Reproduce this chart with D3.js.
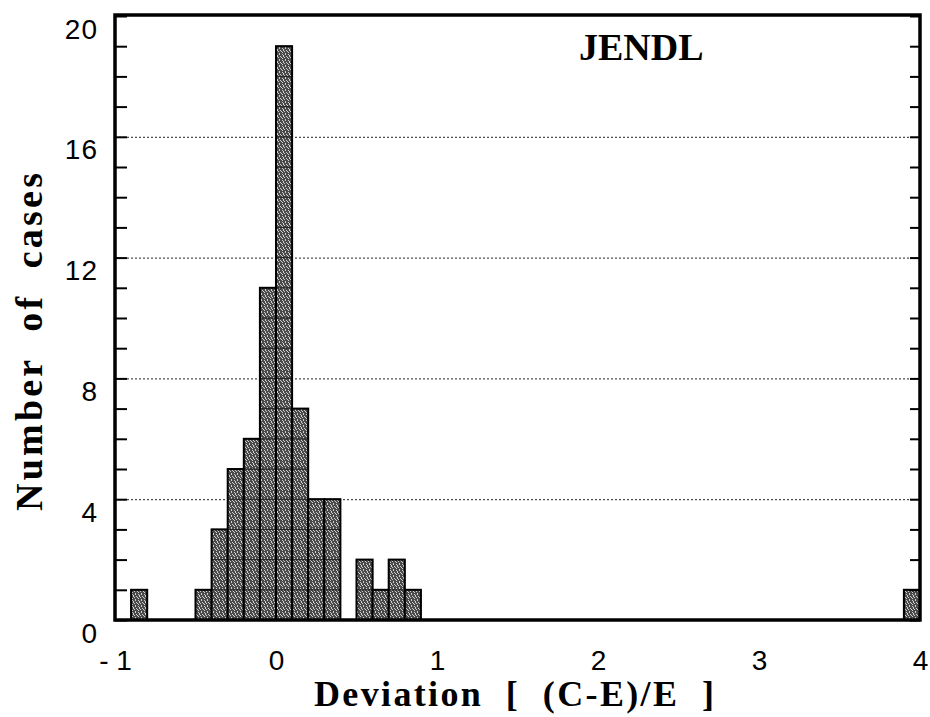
<!DOCTYPE html>
<html>
<head>
<meta charset="utf-8">
<script src="https://cdn.jsdelivr.net/npm/d3@7"></script>
<style>
  html, body { margin: 0; padding: 0; background: #fff; }
  svg { display: block; }
</style>
</head>
<body>
<svg id="chart" width="930" height="717"></svg>
<script>
// Histogram bins (left edge of each 0.1-wide bin) and the number of cases in each
const binStarts = [-0.9, -0.5, -0.4, -0.3, -0.2, -0.1, 0.0, 0.1, 0.2, 0.3, 0.5, 0.6, 0.7, 0.8, 3.9];
const counts    = [1, 1, 3, 5, 6, 11, 19, 7, 4, 4, 2, 1, 2, 1, 1];
const binWidth  = 0.1;

const xTicks = [-1, 0, 1, 2, 3, 4];
const xTickLabels = ["- 1", "0", "1", "2", "3", "4"];
const yTicks = [0, 4, 8, 12, 16, 20];
const gridValues = [4, 8, 12, 16];

const title = "JENDL";
const xTitle = "Deviation  [  (C-E)/E  ]";
const yTitle = "Number  of  cases";

const plotLeft = 115, plotRight = 920, plotTop = 16, plotBottom = 620;

const svg = d3.select("#chart");
const x = d3.scaleLinear().domain([-1, 4]).range([plotLeft, plotRight]);
const y = d3.scaleLinear().domain([0, 20]).range([plotBottom, plotTop]);

// stipple fill for the bars
const defs = svg.append("defs");
const pat = defs.append("pattern")
  .attr("id", "stipple").attr("patternUnits", "userSpaceOnUse")
  .attr("width", 6).attr("height", 6);
pat.append("rect").attr("width", 6).attr("height", 6).attr("fill", "#4a4a4a");
[[0, 0], [3, 0], [1, 1], [4, 2], [2, 3], [5, 3], [0, 4], [3, 5], [1, 2]].forEach(([px, py]) =>
  pat.append("rect").attr("x", px).attr("y", py).attr("width", 1).attr("height", 1).attr("fill", "#d0d0d0"));

// dotted horizontal grid lines
const grid = svg.append("g").attr("transform", `translate(${plotLeft},0)`)
  .call(d3.axisLeft(y).tickValues(gridValues).tickSize(-(plotRight - plotLeft)).tickFormat(""));
grid.select(".domain").remove();
grid.selectAll("line").attr("stroke", "#222").attr("stroke-width", 1).attr("stroke-dasharray", "2,2");

// bars drawn as stacked unit cells
const bins = binStarts.map((s, i) => ({ start: s, count: counts[i] }));
const barG = svg.append("g");
bins.forEach(b => {
  const cells = d3.range(b.count);
  barG.selectAll(null).data(cells).enter().append("rect")
    .attr("x", x(b.start))
    .attr("y", k => y(k + 1))
    .attr("width", x(b.start + binWidth) - x(b.start))
    .attr("height", k => y(k) - y(k + 1))
    .attr("fill", "url(#stipple)")
    .attr("stroke", "#262626")
    .attr("stroke-width", 1);
  barG.append("rect")
    .attr("x", x(b.start))
    .attr("y", y(b.count))
    .attr("width", x(b.start + binWidth) - x(b.start))
    .attr("height", y(0) - y(b.count))
    .attr("fill", "none")
    .attr("stroke", "#000")
    .attr("stroke-width", 2);
});

// left axis: unit ticks pointing inward, labels every 4
const yAxis = svg.append("g").attr("transform", `translate(${plotLeft},0)`)
  .call(d3.axisLeft(y).tickValues(d3.range(0, 21)).tickSize(-12)
    .tickFormat(d => yTicks.includes(d) ? d : ""));
yAxis.select(".domain").remove();
yAxis.selectAll("line").attr("stroke", "#000").attr("stroke-width", 2);
yAxis.selectAll("text")
  .attr("x", -17).attr("dy", "22px")
  .attr("font-family", "'Liberation Sans', Arial, sans-serif")
  .attr("font-size", 28).attr("letter-spacing", 1)
  .attr("fill", "#000");

// right axis: unit ticks pointing inward
const yAxisR = svg.append("g").attr("transform", `translate(${plotRight},0)`)
  .call(d3.axisRight(y).tickValues(d3.range(0, 21)).tickSize(-10).tickFormat(""));
yAxisR.select(".domain").remove();
yAxisR.selectAll("line").attr("stroke", "#000").attr("stroke-width", 2);

// bottom axis labels
const xAxis = svg.append("g").attr("transform", `translate(0,${plotBottom})`)
  .call(d3.axisBottom(x).tickValues(xTicks).tickSize(0)
    .tickFormat((d, i) => xTickLabels[i]));
xAxis.select(".domain").remove();
xAxis.selectAll("text")
  .attr("y", 0).attr("dy", "50px")
  .attr("font-family", "'Liberation Sans', Arial, sans-serif")
  .attr("font-size", 28)
  .attr("fill", "#000")
  .style("white-space", "pre");

// plot frame
svg.append("rect")
  .attr("x", plotLeft).attr("y", 15)
  .attr("width", plotRight - plotLeft).attr("height", plotBottom - 15)
  .attr("fill", "none").attr("stroke", "#000").attr("stroke-width", 3.5);

// labels
svg.append("text")
  .attr("x", 579).attr("y", 60)
  .attr("font-family", "'Liberation Serif', 'Times New Roman', serif")
  .attr("font-weight", "bold").attr("font-size", 38)
  .text(title);

svg.append("text")
  .attr("x", 314).attr("y", 706)
  .attr("font-family", "'Liberation Serif', 'Times New Roman', serif")
  .attr("font-weight", "bold").attr("font-size", 36)
  .attr("textLength", 400).attr("lengthAdjust", "spacing")
  .style("white-space", "pre")
  .text(xTitle);

svg.append("text")
  .attr("transform", "translate(42,511) rotate(-90)")
  .attr("font-family", "'Liberation Serif', 'Times New Roman', serif")
  .attr("font-weight", "bold").attr("font-size", 38)
  .attr("textLength", 338).attr("lengthAdjust", "spacing")
  .style("white-space", "pre")
  .text(yTitle);
</script>
</body>
</html>
